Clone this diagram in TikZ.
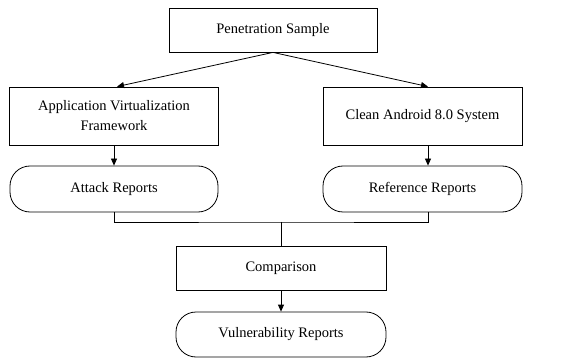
\documentclass[tikz,border=0pt]{standalone}
\usepackage{fontspec}
\setmainfont{Liberation Serif}
\usetikzlibrary{arrows.meta,positioning,calc}

\tikzset{
    box/.style={draw,thick,align=center,inner sep=2pt,font=\fontsize{14.5}{20}\selectfont},
    report/.style={box,rounded corners=20pt},
    arr/.style={-{Triangle[length=7pt,width=6pt]},thick},
    link/.style={thick}
}

\begin{document}
\begin{tikzpicture}[x=1pt,y=-1pt]
    \useasboundingbox (0,0) rectangle (573,358);
    % source
    \node[box,minimum width=208pt,minimum height=44pt] (sample) at (273,30) {Penetration Sample};
    % two environments
    \node[box,minimum width=209pt,minimum height=58pt] (avf) at (114,116) {Application Virtualization\\Framework};
    \node[box,minimum width=199pt,minimum height=58pt] (clean) at (422.5,116) {Clean Android 8.0 System};
    \node[report,minimum width=208pt,minimum height=46pt] (attack) at (114,189) {Attack Reports};
    \node[report,minimum width=199pt,minimum height=46pt] (ref) at (422.5,189) {Reference Reports};
    % result
    \node[box,minimum width=210pt,minimum height=44pt] (comp) at (281,268) {Comparison};
    \node[report,minimum width=210pt,minimum height=45pt] (vuln) at (281,334.5) {Vulnerability Reports};
    \coordinate (join) at (281,222);

    \draw[arr] (sample.south) -- ($(avf.north)+(3,0)$);
    \draw[arr] (sample.south) -- ($(clean.north)+(5.5,0)$);
    \draw[arr] (avf) -- (attack);
    \draw[arr] ($(clean.south)+(5.5,0)$) -- ($(ref.north)+(5.5,0)$);
    \draw[link] (attack.south) |- (join) -| ($(ref.south)+(5.5,0)$);
    \draw[link] (join) -- (comp.north);
    \draw[arr] (comp) -- (vuln);
\end{tikzpicture}
\end{document}
